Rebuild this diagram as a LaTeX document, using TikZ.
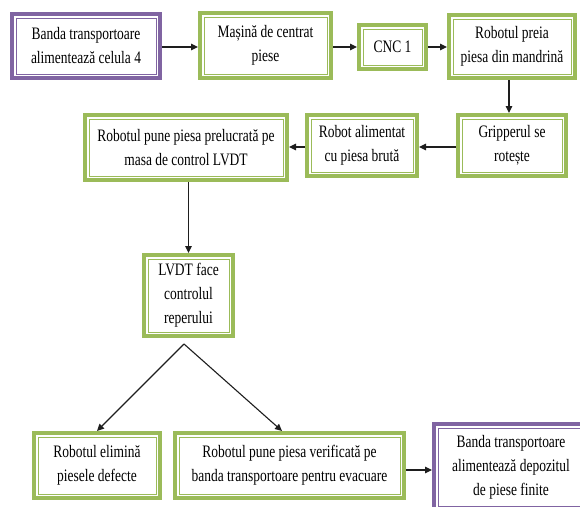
\documentclass[tikz,border=0pt]{standalone}
\usepackage{fontspec}
\setmainfont{Liberation Serif}[FakeStretch=0.77]
\usetikzlibrary{arrows.meta}
\definecolor{boxgreen}{HTML}{9BBB59}
\definecolor{boxpurple}{HTML}{8064A2}
\definecolor{linkgray}{HTML}{1E1E1E}
\tikzset{
  flowbox/.style={draw=#1, line width=4pt, fill=white, inner sep=0pt, align=center,
    font=\fontsize{17.5}{24}\selectfont,
    path picture={\draw[#1, line width=0.9pt]
      ([shift={(4pt,-4pt)}]path picture bounding box.north west) rectangle
      ([shift={(-4pt,4pt)}]path picture bounding box.south east);}},
  flowbox/.default=boxgreen,
  link/.style={draw=linkgray, line width=1.1pt, -{Triangle[length=7pt,width=6.5pt]}}
}
\begin{document}
\begin{tikzpicture}[x=1pt,y=-1pt]
\useasboundingbox[fill=white] (0,0) rectangle (580,506);
\begin{scope}
\clip (0,0) rectangle (580,506);
% top row
\node[flowbox=boxpurple, minimum width=148pt, minimum height=64pt] (b1) at (86,46) {Banda transportoare\\alimentează celula 4};
\node[flowbox, minimum width=131pt, minimum height=65pt] (b2) at (265.5,45.5) {Mașină de centrat\\piese};
\node[flowbox, minimum width=67pt, minimum height=44pt] (b3) at (392.5,47) {CNC 1};
\node[flowbox, minimum width=126pt, minimum height=63pt] (b4) at (512,46.5) {Robotul preia\\piesa din mandrină};
% second row
\node[flowbox, minimum width=108pt, minimum height=61pt] (b5) at (512,145.5) {Gripperul se\\rotește};
\node[flowbox, minimum width=110pt, minimum height=61pt] (b6) at (362,145.5) {Robot alimentat\\cu piesa brută};
\node[flowbox, minimum width=202pt, minimum height=65pt] (b7) at (186,147.5) {Robotul pune piesa prelucrată pe\\masa de control LVDT};
% control step
\node[flowbox, minimum width=89pt, minimum height=81pt] (b8) at (188.5,295.5) {LVDT face\\controlul\\reperului};
% bottom row
\node[flowbox, minimum width=126pt, minimum height=65pt] (b9) at (97,465.5) {Robotul elimină\\piesele defecte};
\node[flowbox, minimum width=229pt, minimum height=65pt] (b10) at (289.5,465.5) {Robotul pune piesa verificată pe\\banda transportoare pentru evacuare};
\node[flowbox=boxpurple, minimum width=154pt, minimum height=86pt] (b11) at (511,467) {Banda transportoare\\alimentează depozitul\\de piese finite};

\coordinate (split) at (184,344);
\coordinate (b10in) at (282,431);
\coordinate (b10out) at ([yshift=-4.5pt]b10.east);

\draw[link] ([yshift=-1pt]b1.east) -- ([yshift=-1.5pt]b2.west);
\draw[link] ([yshift=-1.5pt]b2.east) -- (b3.west);
\draw[link] (b3.east) -- ([yshift=-0.5pt]b4.west);
\draw[link] ([xshift=-3pt]b4.south) -- ([xshift=-3pt]b5.north);
\draw[link] ([yshift=-1.5pt]b5.west) -- ([yshift=-1.5pt]b6.east);
\draw[link] ([yshift=-1.5pt]b6.west) -- ([yshift=0.5pt]b7.east);
\draw[link] (b8.north |- b7.south) -- (b8.north);
\draw[link] (split) -- (b9.north);
\draw[link] (split) -- (b10in);
\draw[link] (b10out) -- (b11.west |- b10out);
\end{scope}
\end{tikzpicture}
\end{document}
